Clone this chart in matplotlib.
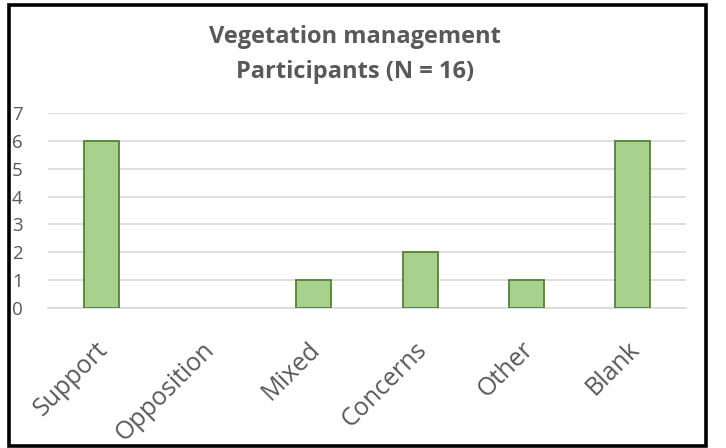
import matplotlib
matplotlib.use("Agg")
import matplotlib.pyplot as plt
import matplotlib.transforms as mtransforms
from matplotlib.patches import Rectangle

categories = ["Support", "Opposition", "Mixed", "Concerns", "Other", "Blank"]
values = [6, 0, 1, 2, 1, 6]
yticks = [0, 1, 2, 3, 4, 5, 6, 7]
title_lines = ["Vegetation management", "Participants (N = 16)"]

plt.rcParams['font.family'] = ['Open Sans', 'DejaVu Sans']
W, H = 726, 448
fig = plt.figure(figsize=(W/100, H/100), dpi=100)
ax = fig.add_axes([48/W, 1-307.7/H, (686-48)/W, (307.7-113.5)/H])

x = list(range(len(categories)))
bars = ax.bar(x, values, width=0.33, color="#A9D18E", edgecolor="#548235", linewidth=1.3, zorder=3)
for b, v in zip(bars, values):
    if v == 0:
        b.set_visible(False)
ax.set_xlim(-0.5, len(categories)-0.5)
ax.set_ylim(0, 7)
ax.set_yticks(yticks)
ax.set_yticklabels([str(t) for t in yticks], fontsize=13.5, color="#595959")
ax.set_xticks(x)
ax.set_xticklabels(categories, rotation=45, ha="right", rotation_mode="anchor",
                   fontsize=18, color="#595959")
ax.tick_params(axis="both", length=0)
ax.tick_params(axis="y", pad=0)
for lab in ax.get_yticklabels():
    lab.set_horizontalalignment("left")
    lab.set_x(-36/638)
ax.tick_params(axis="x", pad=14)
offset = mtransforms.ScaledTranslation(-0.06, -0.10, fig.dpi_scale_trans)
for lab in ax.get_xticklabels():
    lab.set_transform(lab.get_transform() + offset)
ax.grid(axis="y", color="#D9D9D9", linewidth=1.2, zorder=0)
for s in ["top", "right", "left"]:
    ax.spines[s].set_visible(False)
ax.spines["bottom"].set_color("#D9D9D9")
ax.spines["bottom"].set_linewidth(1.2)

fig.text(355/W, 1-43/H, title_lines[0], ha="center", va="baseline", fontsize=17, fontweight="bold",
         color="#595959")
fig.text(355/W, 1-78/H, title_lines[1], ha="center", va="baseline", fontsize=17, fontweight="bold",
         color="#595959")

fig.patches.append(Rectangle((8.5/W, 2.5/H), (706-8.5)/W, (442.5-2.5)/H, transform=fig.transFigure,
                             fill=False, edgecolor="black", linewidth=2.6))
fig.savefig("out.png", dpi=100)
